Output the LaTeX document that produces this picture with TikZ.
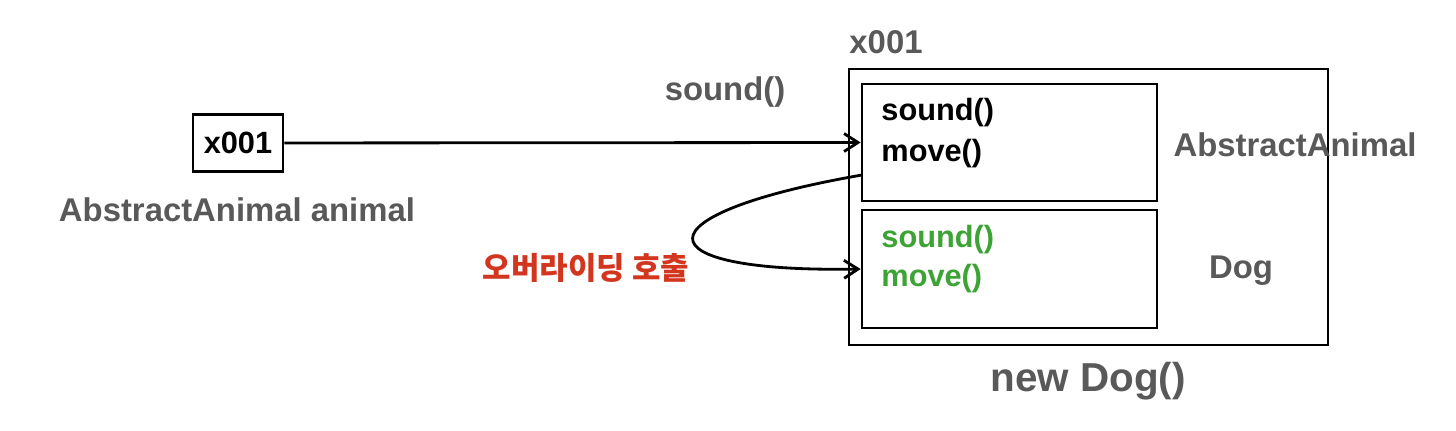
\documentclass[tikz,border=0pt]{standalone}
\usepackage{fontspec}
\setmainfont{Liberation Sans}
\newfontfamily\krfont{Noto Sans CJK KR}
\usetikzlibrary{arrows.meta}

\definecolor{labelgray}{HTML}{595959}
\definecolor{methgreen}{HTML}{3DA335}
\definecolor{callred}{HTML}{D2361F}

\tikzset{
  membox/.style={draw,line width=1.6pt,inner sep=0pt},
  graylbl/.style={text=labelgray,font=\fontsize{18.7}{21}\selectfont\bfseries,inner sep=0pt},
  methlbl/.style={anchor=west,inner sep=0pt,font=\fontsize{17.5}{20}\selectfont\bfseries},
}

\begin{document}
\begin{tikzpicture}[x=0.02cm,y=-0.02cm,line width=1.6pt,>={Straight Barb[length=2.8mm,width=3.6mm]}]
  \useasboundingbox (0,0) rectangle (1456,430);
  % variable de referencia
  \node[membox,minimum width=1.8cm,minimum height=1.14cm,font=\fontsize{17.5}{20}\selectfont\bfseries] (ref) at (238,143) {x001};
  \node[graylbl] (reflbl) at (237,210) {AbstractAnimal animal};
  % instancia en el heap
  \node[membox,line width=1.4pt,minimum width=9.58cm,minimum height=5.52cm] (obj) at (1088.5,207) {};
  \node[graylbl] (addr) at (886,42) {x001};
  \node[membox,minimum width=5.9cm,minimum height=2.34cm] (parent) at (1009.5,142.5) {};
  \node[membox,minimum width=5.9cm,minimum height=2.36cm] (child) at (1009.5,269) {};
  \node[methlbl] (psound) at (880,113) {sound()};
  \node[methlbl] (pmove) at (880,154) {move()};
  \node[methlbl,text=methgreen] (csound) at (880,240) {sound()};
  \node[methlbl,text=methgreen] (cmove) at (880,279) {move()};
  \node[graylbl] (parentlbl) at (1295,145) {AbstractAnimal};
  \node[graylbl] (childlbl) at (1241,271) {Dog};
  \node[graylbl,font=\fontsize{23}{26}\selectfont\bfseries] (newlbl) at (1088,381) {new Dog()};
  % llamada y sobreescritura
  \draw[->] (ref) -- (parent.west);
  \node[graylbl] (calllbl) at (725,92) {sound()};
  \coordinate (callfrom) at (862,175);
  \draw[->] (callfrom) .. controls (637,214) and (637,273) .. (child.west);
  \node[text=callred,inner sep=0pt,font=\krfont\fontsize{17.6}{20}\selectfont\bfseries] (overlbl) at (586,268) {오버라이딩 호출};
\end{tikzpicture}
\end{document}
